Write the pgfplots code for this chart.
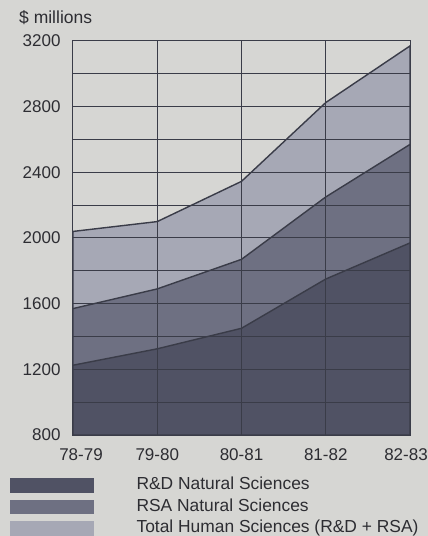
\documentclass[border=0pt]{standalone}
\usepackage{fontspec}
\setmainfont{Liberation Sans}
\usepackage{pgfplots}
\pgfplotsset{compat=1.18}
\definecolor{bg}{RGB}{214,214,211}
\definecolor{darkA}{RGB}{80,82,100}
\definecolor{midA}{RGB}{110,112,130}
\definecolor{lightA}{RGB}{166,168,181}
\definecolor{gridc}{RGB}{58,60,72}
\definecolor{txt}{RGB}{45,45,50}
\begin{document}
\begin{tikzpicture}[x=1pt,y=1pt]
\fill[bg] (0,0) rectangle (428,536);
\useasboundingbox (0,0) rectangle (428,536);
\node[anchor=west, text=txt, font=\fontsize{17.5}{20}\selectfont, inner sep=0pt] at (19,518) {\$ millions};
\begin{axis}[
  at={(73pt,101pt)}, anchor=south west, scale only axis,
  width=337pt, height=394pt,
  xmin=0, xmax=4, ymin=800, ymax=3200,
  xtick={0,1,2,3,4},
  xticklabels={\hspace*{16pt}78-79,79-80,80-81,81-82,82-83\hspace*{8pt}},
  ytick={800,1200,1600,2000,2400,2800,3200},
  minor ytick={1000,1400,1800,2200,2600,3000},
  grid=both,
  major grid style={gridc, line width=1pt},
  minor grid style={gridc, line width=1pt},
  axis line style={gridc, line width=1pt},
  major tick length=0pt, minor tick length=0pt,
  axis on top,
  /pgf/number format/assume math mode=true,
  /pgf/number format/1000 sep={},
  tick label style={font=\fontsize{17}{20}\selectfont, text=txt},
  yticklabel style={xshift=-9pt},
  xticklabel style={yshift=-10pt},
  reverse legend,
  legend style={at={(-0.187,-0.102)}, anchor=north west, draw=none, fill=none,
    inner sep=0pt, column sep=41pt, row sep=1.5pt,
    font=\fontsize{17.4}{20}\selectfont, text=txt,
    nodes={inner sep=2pt, text height=12.5pt, text depth=3.5pt}},
  legend cell align=left,
]
\addplot[fill=lightA, draw=gridc, line width=1.4pt,
  legend image code/.code={\fill[lightA] (0pt,-6.5pt) rectangle (82pt,6.5pt);}]
  coordinates {(0,2040) (1,2100) (2,2345) (3,2825) (4,3170)} \closedcycle;
\addlegendentry{Total Human Sciences (R\&D + RSA)}
\addplot[fill=midA, draw=gridc, line width=1.4pt,
  legend image code/.code={\fill[midA] (0pt,-6.5pt) rectangle (82pt,6.5pt);}]
  coordinates {(0,1570) (1,1690) (2,1870) (3,2250) (4,2570)} \closedcycle;
\addlegendentry{RSA Natural Sciences}
\addplot[fill=darkA, draw=gridc, line width=1.4pt,
  legend image code/.code={\fill[darkA] (0pt,-6.5pt) rectangle (82pt,6.5pt);}]
  coordinates {(0,1225) (1,1325) (2,1450) (3,1750) (4,1970)} \closedcycle;
\addlegendentry{R\&D Natural Sciences}
\end{axis}
\end{tikzpicture}
\end{document}
